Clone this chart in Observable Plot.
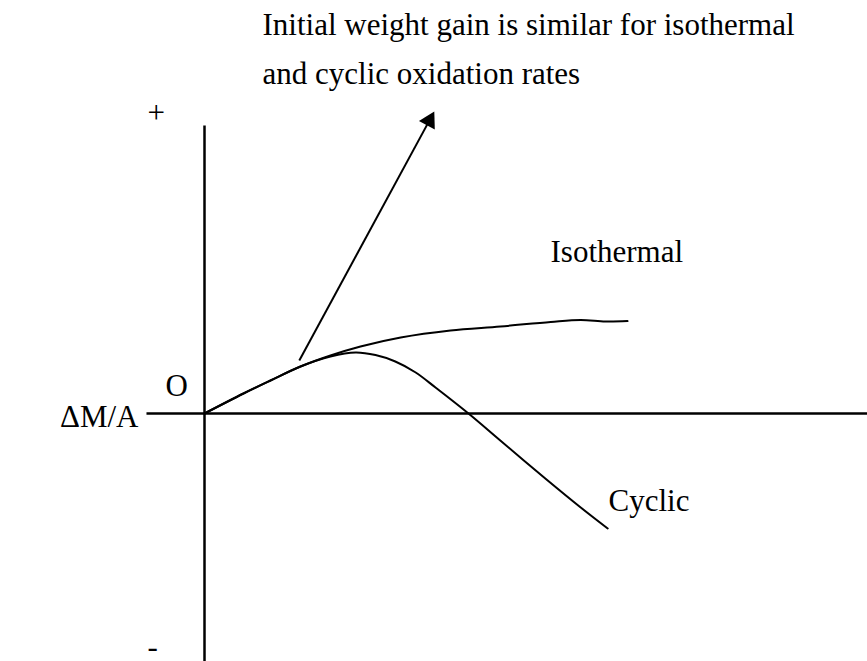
<!DOCTYPE html>
<html>
<head>
<meta charset="utf-8">
<script src="https://cdn.jsdelivr.net/npm/d3@7"></script>
<script src="https://cdn.jsdelivr.net/npm/@observablehq/plot@0.6"></script>
<style>
  html, body { margin: 0; padding: 0; background: #fff; }
  #chart svg { display: block; }
</style>
</head>
<body>
<div id="chart"></div>
<script>
// ---- Data (schematic units: time on x, ΔM/A on y) ----
const isothermalTime = [0, 0.65, 1.1, 1.6, 2.1, 2.6, 3.27, 4.1, 4.93, 5.77, 6.27, 6.68, 7.05];
const isothermalGain = [0, 0.5, 0.825, 1.175, 1.45, 1.675, 1.9, 2.075, 2.175, 2.29, 2.34, 2.3, 2.31];

const cyclicTime = [0, 0.65, 1.1, 1.6, 2.1, 2.52, 2.85, 3.18, 3.52, 3.85, 4.4, 4.93, 5.68, 6.27, 6.72];
const cyclicGain = [0, 0.5, 0.825, 1.175, 1.425, 1.525, 1.46, 1.3, 1.025, 0.65, 0, -0.675, -1.625, -2.35, -2.875];

const horizontalAxisX = [-0.967, 11.05];
const verticalAxisY = [7.2, -6.2];

const arrowStart = [1.58, 1.325];
const arrowTip = [3.83, 7.55];

const labelText = [
  "Initial weight gain is similar for isothermal\nand cyclic oxidation rates",
  "Isothermal",
  "Cyclic",
  "+",
  "-",
  "O",
  "ΔM/A"
];
const labelX = [0.967, 5.767, 6.733, -0.95, -0.95, -0.65, -1.1];
const labelY = [8.25, 3.8, -2.425, 7.26, -6.075, 0.45, -0.325];
const labelAnchor = ["start", "start", "start", "start", "start", "start", "end"];

// ---- Scales ----
const W = 867, H = 661;
const xDomain = [-3.4, 11.05];
const yDomain = [-6.2, 10.325];
const kx = W / (xDomain[1] - xDomain[0]);
const ky = H / (yDomain[1] - yDomain[0]);

// tables
const isothermal = isothermalTime.map((t, i) => ({t, g: isothermalGain[i]}));
const cyclic = cyclicTime.map((t, i) => ({t, g: cyclicGain[i]}));
const labels = labelText.map((text, i) => ({text, x: labelX[i], y: labelY[i], anchor: labelAnchor[i]}));

// arrow head geometry (filled triangle)
const sx = (arrowTip[0] - arrowStart[0]) * kx;
const sy = -(arrowTip[1] - arrowStart[1]) * ky;
const len = Math.hypot(sx, sy);
const ux = sx / len, uy = sy / len;
const headHalf = 5.2;
const headR = Math.sqrt(headHalf * headHalf * 3 * Math.sqrt(3) / Math.PI);
const headOffset = 2 * headHalf;
const head = [{
  x: arrowTip[0] - headOffset * ux / kx,
  y: arrowTip[1] + headOffset * uy / ky,
  rotate: Math.atan2(ux, -uy) * 180 / Math.PI
}];

const font = "'Liberation Serif', 'Times New Roman', serif";
const textOpts = {x: "x", y: "y", text: "text", lineAnchor: "bottom", lineHeight: 1.55, fontSize: 31, fill: "#000", fontFamily: font};

const chart = Plot.plot({
  width: W,
  height: H,
  margin: 0,
  x: {domain: xDomain, axis: null},
  y: {domain: yDomain, axis: null},
  style: {fontFamily: font, background: "#fff"},
  marks: [
    Plot.link([{x1: horizontalAxisX[0], x2: horizontalAxisX[1], y1: 0, y2: 0}],
      {x1: "x1", x2: "x2", y1: "y1", y2: "y2", stroke: "#000", strokeWidth: 2.5}),
    Plot.link([{x1: 0, x2: 0, y1: verticalAxisY[0], y2: verticalAxisY[1]}],
      {x1: "x1", x2: "x2", y1: "y1", y2: "y2", stroke: "#000", strokeWidth: 2.5}),
    Plot.line(isothermal, {x: "t", y: "g", curve: "catmull-rom", stroke: "#000", strokeWidth: 2}),
    Plot.line(cyclic, {x: "t", y: "g", curve: "catmull-rom", stroke: "#000", strokeWidth: 2}),
    Plot.link([{x1: arrowStart[0], y1: arrowStart[1], x2: head[0].x, y2: head[0].y}],
      {x1: "x1", y1: "y1", x2: "x2", y2: "y2", stroke: "#000", strokeWidth: 2}),
    Plot.dot(head, {x: "x", y: "y", symbol: "triangle", r: headR, rotate: "rotate", fill: "#000", stroke: "none"}),
    Plot.text(labels.filter(d => d.anchor === "start"), {...textOpts, textAnchor: "start"}),
    Plot.text(labels.filter(d => d.anchor === "end"), {...textOpts, textAnchor: "end"})
  ]
});
document.getElementById("chart").appendChild(chart);
</script>
</body>
</html>
